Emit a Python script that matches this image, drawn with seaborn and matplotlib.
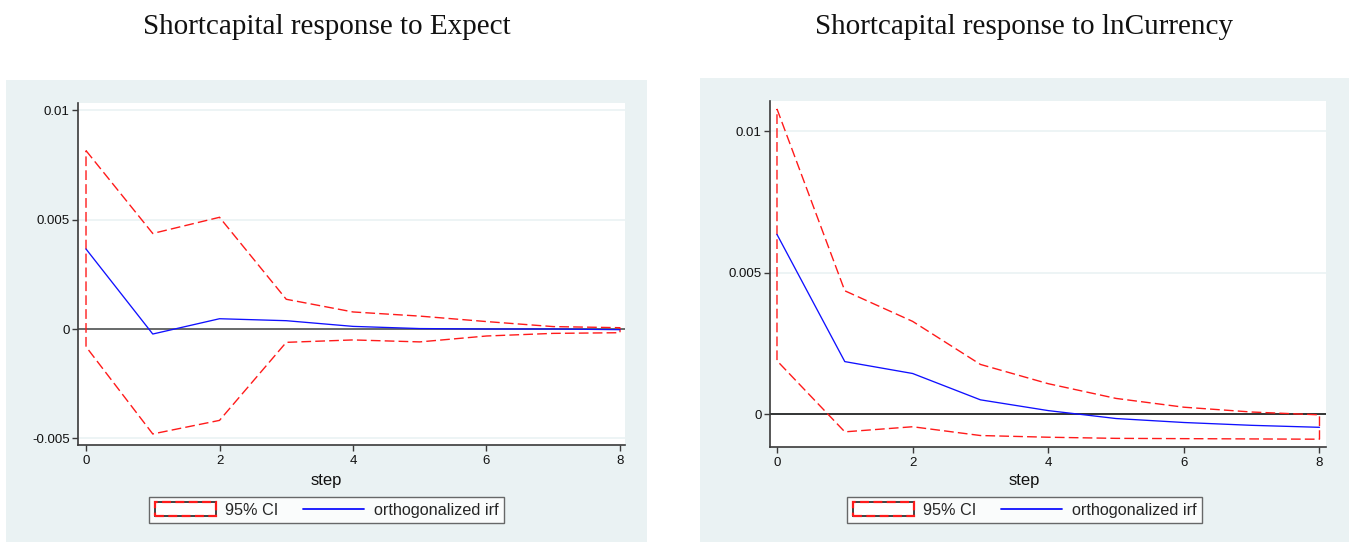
import numpy as np
import pandas as pd
import matplotlib
matplotlib.use("Agg")
import matplotlib.pyplot as plt
from matplotlib.patches import Rectangle, Patch
from matplotlib.lines import Line2D
import seaborn as sns

# ---------------- data ----------------
steps = [0, 1, 2, 3, 4, 5, 6, 7, 8]

expect_irf = [0.00366, -0.00023, 0.00047, 0.00038, 0.00012, 0.00002, 0.0, 0.0, -0.00003]
expect_upper = [0.00816, 0.00437, 0.00511, 0.00136, 0.00078, 0.00059, 0.00034, 0.00011, 0.00006]
expect_lower = [-0.00081, -0.00480, -0.00418, -0.00061, -0.00050, -0.00059, -0.00032, -0.00020, -0.00017]

curr_irf = [0.00635, 0.00186, 0.00144, 0.00051, 0.00013, -0.00015, -0.00029, -0.00039, -0.00046]
curr_upper = [0.01078, 0.00436, 0.00328, 0.00176, 0.00108, 0.00056, 0.00025, 0.00008, -0.00002]
curr_lower = [0.00189, -0.00062, -0.00044, -0.00075, -0.00081, -0.00085, -0.00086, -0.00087, -0.00088]

titles = ["Shortcapital response to Expect", "Shortcapital response to lnCurrency"]
xlabel = "step"
legend_labels = ["95% CI", "orthogonalized irf"]

left_yticks = [-0.005, 0, 0.005, 0.01]
left_yticklabels = ["-0.005", "0", "0.005", "0.01"]
right_yticks = [0, 0.005, 0.01]
right_yticklabels = ["0", "0.005", "0.01"]
xticks = [0, 2, 4, 6, 8]
xticklabels = ["0", "2", "4", "6", "8"]

# ---------------- style ----------------
sns.set_theme(style="white")
plt.rcParams["font.family"] = ["Liberation Sans", "DejaVu Sans"]

W, H = 1349, 542
fig = plt.figure(figsize=(W / 100, H / 100), dpi=100)
fig.patch.set_facecolor("white")

BG = "#EAF2F3"
SPINE = "#3a3a3a"
RED = "#FF1A1A"
BLUE = "#1010FF"

def px_rect(x0, y0, x1, y1):
    return [x0 / W, 1 - y1 / H, (x1 - x0) / W, (y1 - y0) / H]

# panel backgrounds
for (x0, y0, x1, y1) in [(6, 80, 647, 542), (700, 78, 1349, 542)]:
    fig.patches.append(Rectangle((x0 / W, 1 - y1 / H), (x1 - x0) / W, (y1 - y0) / H,
                                 transform=fig.transFigure, facecolor=BG,
                                 edgecolor="none", zorder=-5))

panels = [
    dict(rect=px_rect(78, 103, 625, 445), xlim=(-0.12, 8.075), ylim=(-0.005306, 0.010338),
         irf=expect_irf, up=expect_upper, lo=expect_lower,
         yt=left_yticks, ytl=left_yticklabels, cx=326.5, zero="#444444"),
    dict(rect=px_rect(770, 101, 1326, 447), xlim=(-0.103, 8.096), ylim=(-0.001155, 0.01106),
         irf=curr_irf, up=curr_upper, lo=curr_lower,
         yt=right_yticks, ytl=right_yticklabels, cx=1024.5, zero="#000000"),
]

for i, p in enumerate(panels):
    ax = fig.add_axes(p["rect"])
    ax.set_facecolor("white")
    ax.set_xlim(*p["xlim"])
    ax.set_ylim(*p["ylim"])

    # faint grid
    for yv in p["yt"]:
        ax.axhline(yv, color=BG, lw=1.2, zorder=1)
    ax.axhline(0, color=p["zero"], lw=1.1, zorder=2)

    # CI area outline (closed polygon, no fill)
    xs = list(steps) + list(steps[::-1])
    ys = list(p["up"]) + list(p["lo"][::-1])
    ax.fill(xs, ys, facecolor="none", edgecolor=RED, lw=1.0,
            linestyle=(0, (7, 3.0)), zorder=3)

    df = pd.DataFrame({"step": steps, "irf": p["irf"]})
    sns.lineplot(data=df, x="step", y="irf", ax=ax, color=BLUE, lw=0.95, zorder=4)

    ax.set_xlabel("")
    ax.set_ylabel("")
    ax.set_xticks(xticks)
    ax.set_xticklabels(xticklabels)
    ax.set_yticks(p["yt"])
    ax.set_yticklabels(p["ytl"])
    ax.tick_params(axis="both", which="major", labelsize=9.5, colors=SPINE,
                   labelcolor="#111111", length=4.5, width=1.0, direction="out",
                   left=True, bottom=True)
    ax.tick_params(axis="y", pad=1.5)
    ax.tick_params(axis="x", pad=3)
    for s in ["top", "right"]:
        ax.spines[s].set_visible(False)
    for s in ["left", "bottom"]:
        ax.spines[s].set_color(SPINE)
        ax.spines[s].set_linewidth(1.2)

    # title
    fig.text(p["cx"] / W, 1 - 27 / H, titles[i], ha="center", va="center",
             fontsize=21, family=["Liberation Serif", "DejaVu Serif"], color="#111111")
    # x label
    fig.text(p["cx"] / W, 1 - 481 / H, xlabel, ha="center", va="center",
             fontsize=12, color="#111111")

    ci_handle = (Patch(facecolor="white", edgecolor="#333333", lw=1.3),
                 Patch(facecolor="none", edgecolor=RED, lw=1.6, linestyle=(0, (4, 2))))
    handles = [ci_handle, Line2D([0], [0], color=BLUE, lw=1.3)]
    leg = ax.legend(handles, legend_labels, loc="center",
                    bbox_to_anchor=(p["cx"] / W, 1 - 510 / H),
                    bbox_transform=fig.transFigure, ncol=2, fontsize=11.7,
                    frameon=True, fancybox=False, edgecolor="#444444",
                    handlelength=3.75, handleheight=0.95, handletextpad=0.6,
                    columnspacing=1.5, borderpad=0.35)
    leg.get_frame().set_linewidth(1.0)
    leg.get_frame().set_facecolor("white")

fig.savefig("out.png", dpi=100, facecolor="white")
